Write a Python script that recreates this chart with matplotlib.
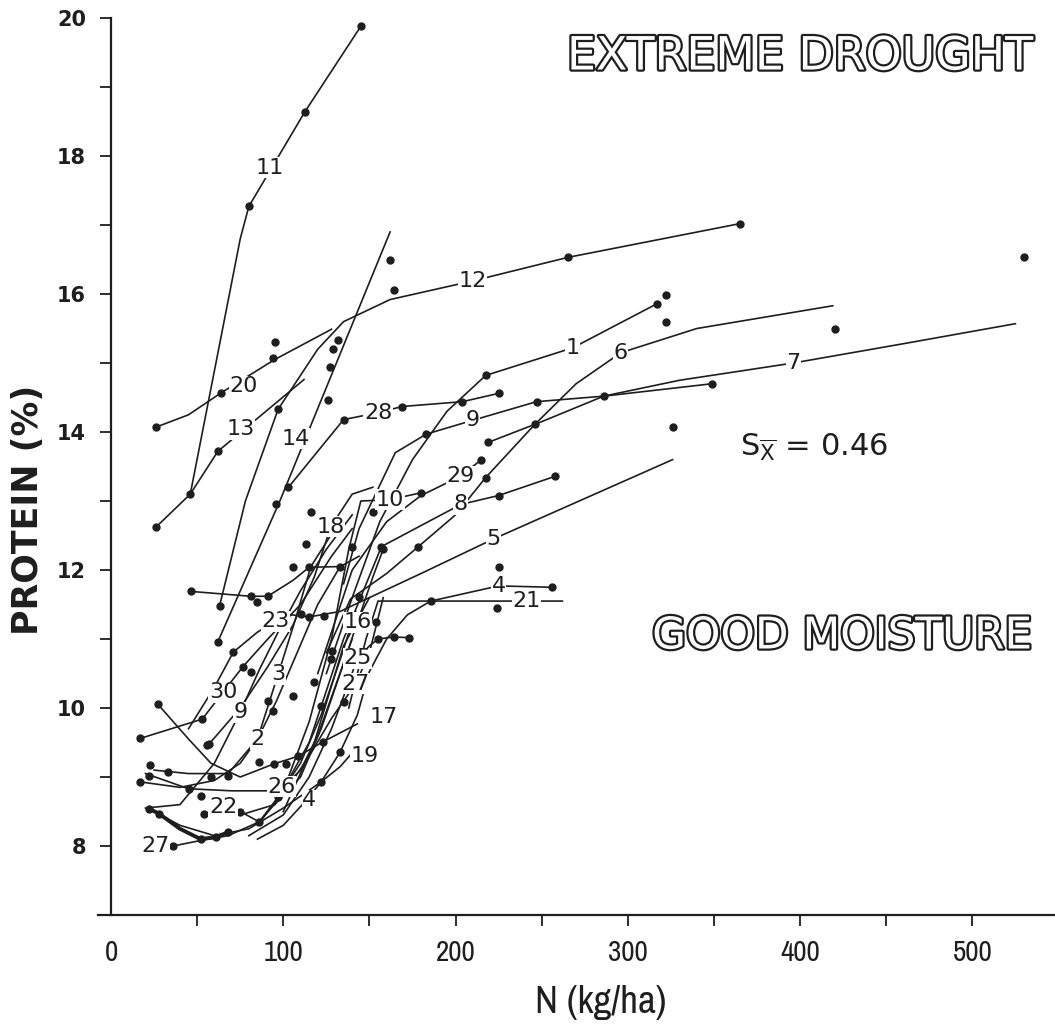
import matplotlib.pyplot as plt
import matplotlib.patheffects as pe
from matplotlib import font_manager

# fitted response curves, N (kg/ha) vs protein (%)
n_11 = [46, 75, 80, 112.5, 145]
p_11 = [13.1, 16.8, 17.27, 18.64, 19.88]
n_12 = [63, 78, 97, 120, 135, 162, 210, 265, 365]
p_12 = [11.48, 13.0, 14.33, 15.2, 15.6, 15.92, 16.19, 16.53, 17.02]
n_20 = [26, 45, 64, 95, 128]
p_20 = [14.07, 14.25, 14.57, 15.05, 15.49]
n_13 = [26, 46, 62, 112]
p_13 = [12.62, 13.1, 13.72, 14.76]
n_14 = [62, 98, 162]
p_14 = [10.96, 13.0, 16.9]
n_28 = [103, 135, 155, 169, 204, 225]
p_28 = [13.2, 14.18, 14.28, 14.37, 14.44, 14.56]
n_9a = [135, 144, 165, 183, 210, 247, 286, 349]
p_9a = [11.8, 12.6, 13.7, 13.97, 14.17, 14.44, 14.52, 14.7]
n_1 = [125, 140, 156, 175, 195, 217.5, 268, 317]
p_1 = [10.5, 11.6, 12.7, 13.6, 14.3, 14.82, 15.22, 15.86]
n_6 = [125, 139, 160, 178, 200, 217.5, 246, 270, 296, 340, 419]
p_6 = [10.8, 11.58, 11.95, 12.33, 12.8, 13.34, 14.11, 14.7, 15.15, 15.5, 15.83]
n_7 = [219, 250, 286, 330, 396, 460, 525]
p_7 = [13.85, 14.15, 14.52, 14.75, 15.0, 15.28, 15.57]
n_5 = [100, 118, 135, 150, 180, 222, 326]
p_5 = [8.5, 9.5, 10.9, 11.6, 11.95, 12.45, 13.6]
n_8 = [95, 115, 135, 157, 203, 225, 258]
p_8 = [8.6, 9.5, 11.0, 12.34, 12.95, 13.08, 13.36]
n_29 = [120, 140, 160, 180, 203, 215]
p_29 = [10.5, 12.0, 12.7, 13.08, 13.36, 13.6]
n_10 = [85, 100, 115, 128, 138, 145, 162, 180]
p_10 = [8.3, 8.8, 9.8, 11.0, 12.3, 13.0, 13.02, 13.12]
n_4 = [85, 100, 114, 122, 133, 143, 150, 160, 172, 185.6, 225, 256]
p_4 = [8.1, 8.3, 8.68, 8.93, 9.36, 9.9, 10.53, 11.0, 11.35, 11.55, 11.77, 11.75]
n_21 = [138, 148, 155, 185.6, 241, 262]
p_21 = [10.0, 11.0, 11.55, 11.55, 11.55, 11.55]
n_16 = [75, 95, 110, 122, 133, 143, 152, 158]
p_16 = [8.45, 8.6, 9.0, 9.7, 10.5, 11.24, 11.9, 12.3]
n_25 = [80, 100, 115, 128, 137, 143, 150, 155, 164, 173]
p_25 = [8.15, 8.45, 9.0, 9.7, 10.3, 10.72, 10.9, 11.0, 11.03, 11.02]
n_27 = [36, 52, 68, 86, 100, 115, 128, 142, 150, 158]
p_27 = [8.0, 8.08, 8.15, 8.35, 8.75, 9.3, 9.85, 10.35, 10.8, 11.6]
n_27b = [22, 27.8, 40, 52, 61, 68]
p_27b = [8.54, 8.47, 8.25, 8.1, 8.13, 8.2]
n_22 = [54, 65, 75, 86, 97, 110, 122, 133, 142]
p_22 = [8.47, 8.55, 8.5, 8.35, 8.71, 9.2, 9.9, 10.7, 11.4]
n_26 = [20, 45, 70, 90, 99, 110, 120, 130, 140]
p_26 = [9.05, 8.83, 8.8, 8.8, 8.83, 9.1, 9.6, 10.3, 11.0]
n_19 = [22, 40, 60, 80, 100, 122, 133, 140]
p_19 = [8.54, 8.3, 8.15, 8.25, 8.55, 8.93, 9.15, 9.35]
n_17 = [27, 45, 58, 75, 94.5, 108.5, 123, 143]
p_17 = [10.06, 9.55, 9.2, 9.0, 9.19, 9.3, 9.51, 9.77]
n_2 = [16.8, 40, 60, 75, 85, 96, 108, 120, 133]
p_2 = [8.93, 8.85, 8.95, 9.2, 9.55, 10.1, 10.8, 11.5, 12.05]
n_3 = [25, 45, 68, 85, 97, 106, 116, 130]
p_3 = [9.1, 9.05, 9.05, 9.55, 10.49, 11.2, 12.05, 12.6]
n_9b = [20, 40, 60, 75, 86, 97, 110, 125, 140]
p_9b = [8.55, 8.6, 9.2, 9.94, 10.55, 11.1, 11.7, 12.3, 12.8]
n_30 = [17, 53, 65, 76.6, 91, 110, 128, 140]
p_30 = [9.56, 9.84, 10.23, 10.6, 11.0, 11.5, 12.2, 12.6]
n_23 = [45, 60, 71, 85, 95.7, 105, 115, 133, 150]
p_23 = [9.7, 10.3, 10.81, 11.1, 11.26, 11.35, 11.32, 11.4, 11.6]
n_18 = [57, 75, 91, 105.6, 118, 127.6, 140, 152]
p_18 = [9.48, 10.0, 10.6, 11.2, 11.9, 12.63, 13.1, 13.2]
n_flat = [46.4, 81, 91, 105.6, 115, 133, 144]
p_flat = [11.69, 11.62, 11.62, 11.85, 12.04, 12.05, 12.2]

# measured points
dots_up_n = [46, 80, 112.5, 145, 63, 97, 265, 365, 162, 164, 26, 64, 95, 94, 26, 62,
             132, 129, 127, 126, 62, 103, 135, 169, 204, 225, 183, 247, 286, 349, 217.5,
             317, 322, 322, 178, 217.5, 246, 420, 530, 326, 219, 180, 215, 157, 225, 258,
             225, 224, 185.6, 256, 154, 155, 164, 173, 158]
dots_up_p = [13.1, 17.27, 18.64, 19.88, 11.48, 14.33, 16.53, 17.02, 16.5, 16.06, 14.07,
             14.57, 15.3, 15.08, 12.62, 13.72, 15.34, 15.2, 14.94, 14.47, 10.96, 13.2, 14.18,
             14.37, 14.44, 14.56, 13.97, 14.44, 14.52, 14.7, 14.82, 15.86, 15.98, 15.6, 12.33,
             13.34, 14.11, 15.5, 16.54, 14.07, 13.85, 13.12, 13.6, 12.34, 13.08, 13.36, 12.05,
             11.45, 11.55, 11.75, 11.24, 11.0, 11.03, 11.02, 12.3]
dots_low_n = [17, 53, 56, 27, 22.6, 22, 16.8, 33, 45, 52, 22, 27.8, 54, 52, 36, 61, 68, 75,
              86, 86, 94.5, 101.5, 96.9, 122, 133, 123, 108.5, 68, 58, 57]
dots_low_p = [9.56, 9.84, 9.46, 10.06, 9.17, 9.01, 8.93, 9.07, 8.83, 8.73, 8.54, 8.47, 8.47,
              8.1, 8.0, 8.13, 8.2, 8.5, 8.35, 9.22, 9.19, 9.19, 8.71, 8.93, 9.36, 9.51, 9.3,
              9.02, 9.0, 9.48]
dots_mid_n = [113, 105.6, 115, 133, 85, 91, 81, 46.4, 115, 110, 123.5, 144, 71, 76.6, 81, 91,
              94, 105.6, 118, 122, 127.6, 128.5, 135, 140, 116, 95.7, 152]
dots_mid_p = [12.37, 12.05, 12.04, 12.05, 11.53, 11.62, 11.62, 11.69, 11.32, 11.36, 11.33,
              11.61, 10.81, 10.6, 10.52, 10.1, 9.96, 10.17, 10.38, 10.03, 10.71, 10.83, 10.09,
              12.34, 12.84, 12.95, 12.84]

# curve numbers
lab_text = ['11', '12', '20', '13', '14', '28', '9', '1', '6', '7', '5', '8', '29', '10', '4',
            '21', '16', '25', '27', '18', '23', '3', '30', '9', '2', '17', '19', '22', '26',
            '4', '27']
lab_n = [92, 210, 77, 75, 107, 155, 210, 268, 296, 396, 222, 203, 203, 162, 225, 241, 143,
         143, 142, 127.6, 95.7, 97, 65, 75.4, 85, 158, 147, 65, 99, 115, 26]
lab_p = [17.83, 16.19, 14.66, 14.04, 13.9, 14.28, 14.17, 15.22, 15.15, 15.0, 12.45, 12.95,
         13.36, 13.02, 11.77, 11.55, 11.24, 10.72, 10.35, 12.63, 11.26, 10.49, 10.23, 9.94,
         9.55, 9.87, 9.31, 8.57, 8.86, 8.66, 8.0]

curves = [(n_11, p_11), (n_12, p_12), (n_20, p_20), (n_13, p_13), (n_14, p_14),
          (n_28, p_28), (n_9a, p_9a), (n_1, p_1), (n_6, p_6), (n_7, p_7), (n_5, p_5),
          (n_8, p_8), (n_29, p_29), (n_10, p_10), (n_4, p_4), (n_21, p_21), (n_16, p_16),
          (n_25, p_25), (n_27, p_27), (n_22, p_22), (n_26, p_26), (n_19, p_19),
          (n_17, p_17), (n_2, p_2), (n_3, p_3), (n_9b, p_9b), (n_30, p_30), (n_23, p_23),
          (n_18, p_18), (n_flat, p_flat)]

# narrow face for the N axis, if one is installed
installed = [(f.name, f.stretch) for f in font_manager.fontManager.ttflist]
narrow = None
for name, stretch in installed:
    if 'Narrow' in name or 'Condensed' in name:
        narrow = name
        break
if narrow is None:
    for name, stretch in installed:
        if stretch in ('condensed', 'semi-condensed', 'extra-condensed'):
            narrow = name
            break
narrow_kw = dict(family=narrow if narrow else 'DejaVu Sans', stretch='condensed')

ink = '#1e1e1e'
fig = plt.figure(figsize=(10.55, 10.25), dpi=100)
ax = fig.add_axes([0.093, 0.1073, 0.907, 0.8751])

for n, p in curves:
    ax.plot(n, p, '-', color=ink, lw=1.2, zorder=2)
ax.plot(n_27b, p_27b, '-', color=ink, lw=2.8, zorder=2)

for dn, dp in [(dots_up_n, dots_up_p), (dots_low_n, dots_low_p), (dots_mid_n, dots_mid_p)]:
    ax.plot(dn, dp, 'o', color=ink, ms=5, zorder=3)

for s, n, p in zip(lab_text, lab_n, lab_p):
    ax.text(n, p, s, fontsize=16, ha='center', va='center', color=ink, zorder=5,
            bbox=dict(facecolor='white', edgecolor='none', pad=0.3))

ax.set_xlim(-7.5, 548)
ax.set_ylim(7, 20)
ax.spines['top'].set_visible(False)
ax.spines['right'].set_visible(False)
ax.spines['left'].set_position(('data', 0))
ax.spines['left'].set_linewidth(1.6)
ax.spines['bottom'].set_linewidth(1.6)
ax.spines['left'].set_color(ink)
ax.spines['bottom'].set_color(ink)

ax.set_yticks(range(8, 21))
ax.set_yticklabels([str(v) if v % 2 == 0 else '' for v in range(8, 21)],
                   fontsize=15, fontweight='bold', color=ink)
ax.tick_params(axis='y', direction='out', length=8, width=1.3, pad=10, colors=ink)

ax.set_xticks(range(0, 501, 100))
ax.set_xticks(range(50, 500, 100), minor=True)
ax.set_xticklabels([str(v) for v in range(0, 501, 100)], fontsize=21, color=ink, **narrow_kw)
ax.tick_params(axis='x', which='both', direction='out', length=8, width=1.3, pad=9, colors=ink)
ax.xaxis.get_major_ticks()[0].tick1line.set_visible(False)

fig.text(28 / 1055, 1 - 510 / 1025, 'PROTEIN (%)', rotation=90, ha='center', va='center',
         fontsize=25, fontweight='bold', color=ink)
fig.text(601 / 1055, 1 - 1003 / 1025, 'N (kg/ha)', ha='center', va='center',
         fontsize=28, color=ink, **narrow_kw)

outline = [pe.withStroke(linewidth=3.2, foreground=ink)]
fig.text(1034 / 1055, 1 - 57 / 1025, 'EXTREME DROUGHT', ha='right', va='center',
         fontsize=33, color='white', family='DejaVu Sans', path_effects=outline)
fig.text(1032 / 1055, 1 - 636 / 1025, 'GOOD MOISTURE', ha='right', va='center',
         fontsize=31.5, color='white', family='DejaVu Sans', path_effects=outline)
fig.text(740 / 1055, 1 - 447 / 1025, r'S$_{\overline{\mathregular{X}}}$ = 0.46', ha='left',
         va='center', fontsize=22, color=ink)

fig.savefig('out.png', dpi=100, facecolor='white')
